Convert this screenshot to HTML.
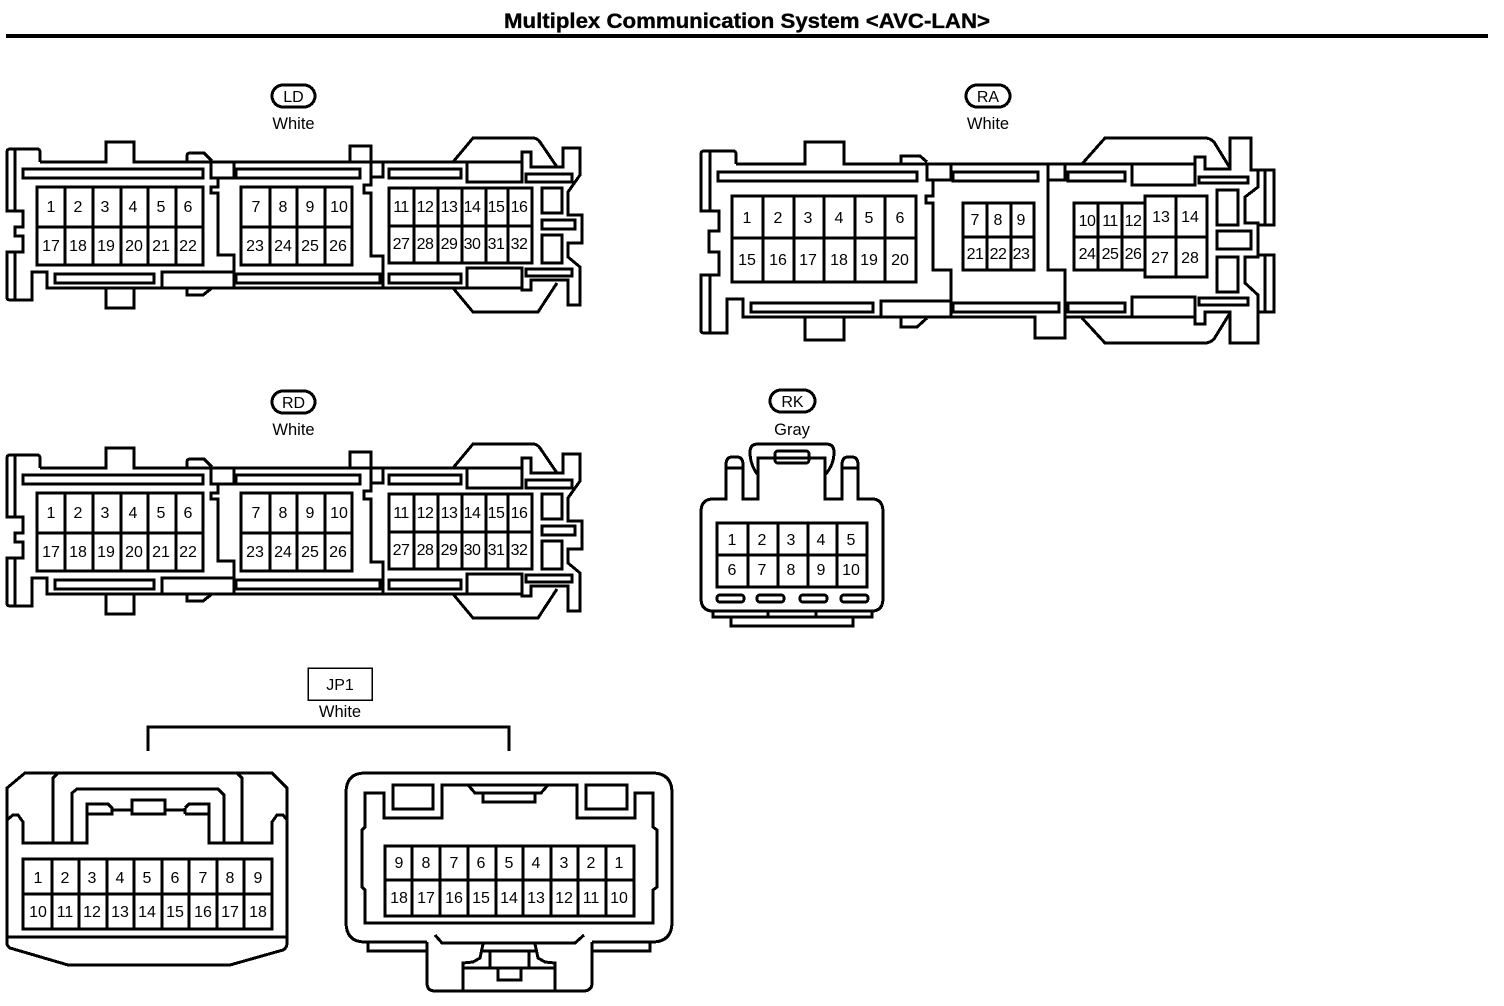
<!DOCTYPE html>
<html><head><meta charset="utf-8"><style>
html,body{margin:0;padding:0;background:#fff}
svg{display:block}
text{font-family:"Liberation Sans",sans-serif;font-size:16px;fill:#000;text-anchor:middle;stroke:none}
.n{letter-spacing:-.5px}
.s{font-size:16.5px}
text.t{font-size:21px;font-weight:bold;stroke:#000;stroke-width:.35px}
path,rect{fill:none;stroke:#000;stroke-width:3;shape-rendering:crispEdges}
.g{stroke-width:3}
</style></head><body>
<svg width="1504" height="1006" viewBox="0 0 1504 1006" xmlns="http://www.w3.org/2000/svg">
<rect x="0" y="0" width="1504" height="1006" style="fill:#fff;stroke:none"/>
<text class="t" x="747" y="28" textLength="486" lengthAdjust="spacingAndGlyphs">Multiplex Communication System &lt;AVC-LAN&gt;</text>
<path d="M6 36H1488" style="stroke-width:4"/>

<!-- LD -->
<g>
<rect x="272" y="85" width="43" height="22" rx="11"/><text x="293.500" y="102">LD</text><text class="s" x="293.500" y="129">White</text>
<path d="M40 162V152Q40 149 37 149H10Q7 149 7 152V211H23V227H15V236H23V252H7V297Q7 300 10 300H32V272H47V288H106V308H134V288H187V295H203L212 288M15 149V211M15 252V300M40 162H106V142H134V162H187V156Q187 153 190 153H204L212 161M187 162H522M47 288H522M453 162L473 138H533Q537 138 540 142L557 167M453 288L473 312H538L557 283M522 162V152H531V167H563V148H580V175L568 192V215H582V243H568V257L580 267V305H568V280H531V290H522V268H467V288M467 162V182H522V162"/>
<path d="M211 162V178H234V162M218 178V187H211V193H218V255H234V288M234 272H162V288M350 162V146H371V185H364V193H371V256H383V288M371 177H383V162"/>
<rect x="23" y="169" width="180" height="9"/><rect x="236" y="169" width="124" height="9"/><rect x="389" y="169" width="72" height="9"/><rect x="55" y="274" width="99" height="9"/><rect x="236" y="274" width="144" height="9"/><rect x="389" y="274" width="72" height="9"/>
<rect x="526" y="174" width="46" height="8"/><rect x="526" y="269" width="46" height="7"/><rect x="542" y="188" width="20" height="25"/><rect x="542" y="220" width="33" height="9"/><rect x="542" y="235" width="20" height="28"/>
<path class="g" d="M37 187H203V265H37ZM37 227H203M65 187V265M93 187V265M121 187V265M148 187V265M176 187V265M241 187H352V265H241ZM241 227H352M270 187V265M297 187V265M325 187V265M389 188H532V263H389ZM389 226H532M414 188V263M438 188V263M462 188V263M486 188V263M508 188V263"/>
<text x="51" y="212">1</text><text x="78" y="212">2</text><text x="105" y="212">3</text><text x="133" y="212">4</text><text x="161" y="212">5</text><text x="188" y="212">6</text>
<text x="51" y="251">17</text><text x="78" y="251">18</text><text x="106" y="251">19</text><text x="134" y="251">20</text><text x="161" y="251">21</text><text x="188" y="251">22</text>
<text x="256" y="212">7</text><text x="283" y="212">8</text><text x="310" y="212">9</text><text x="339" y="212">10</text>
<text x="255" y="251">23</text><text x="283" y="251">24</text><text x="310" y="251">25</text><text x="338" y="251">26</text>
<text class="n" x="401" y="212">11</text><text class="n" x="425" y="212">12</text><text class="n" x="449" y="212">13</text><text class="n" x="472" y="212">14</text><text class="n" x="496" y="212">15</text><text class="n" x="519" y="212">16</text>
<text class="n" x="401" y="249">27</text><text class="n" x="425" y="249">28</text><text class="n" x="449" y="249">29</text><text class="n" x="472" y="249">30</text><text class="n" x="496" y="249">31</text><text class="n" x="519" y="249">32</text>
</g>

<!-- RD -->
<g transform="translate(0,306)">
<rect x="272" y="85" width="43" height="22" rx="11"/><text x="293.500" y="102">RD</text><text class="s" x="293.500" y="129">White</text>
<path d="M40 162V152Q40 149 37 149H10Q7 149 7 152V211H23V227H15V236H23V252H7V297Q7 300 10 300H32V272H47V288H106V308H134V288H187V295H203L212 288M15 149V211M15 252V300M40 162H106V142H134V162H187V156Q187 153 190 153H204L212 161M187 162H522M47 288H522M453 162L473 138H533Q537 138 540 142L557 167M453 288L473 312H538L557 283M522 162V152H531V167H563V148H580V175L568 192V215H582V243H568V257L580 267V305H568V280H531V290H522V268H467V288M467 162V182H522V162"/>
<path d="M211 162V178H234V162M218 178V187H211V193H218V255H234V288M234 272H162V288M350 162V146H371V185H364V193H371V256H383V288M371 177H383V162"/>
<rect x="23" y="169" width="180" height="9"/><rect x="236" y="169" width="124" height="9"/><rect x="389" y="169" width="72" height="9"/><rect x="55" y="274" width="99" height="9"/><rect x="236" y="274" width="144" height="9"/><rect x="389" y="274" width="72" height="9"/>
<rect x="526" y="174" width="46" height="8"/><rect x="526" y="269" width="46" height="7"/><rect x="542" y="188" width="20" height="25"/><rect x="542" y="220" width="33" height="9"/><rect x="542" y="235" width="20" height="28"/>
<path class="g" d="M37 187H203V265H37ZM37 227H203M65 187V265M93 187V265M121 187V265M148 187V265M176 187V265M241 187H352V265H241ZM241 227H352M270 187V265M297 187V265M325 187V265M389 188H532V263H389ZM389 226H532M414 188V263M438 188V263M462 188V263M486 188V263M508 188V263"/>
<text x="51" y="212">1</text><text x="78" y="212">2</text><text x="105" y="212">3</text><text x="133" y="212">4</text><text x="161" y="212">5</text><text x="188" y="212">6</text>
<text x="51" y="251">17</text><text x="78" y="251">18</text><text x="106" y="251">19</text><text x="134" y="251">20</text><text x="161" y="251">21</text><text x="188" y="251">22</text>
<text x="256" y="212">7</text><text x="283" y="212">8</text><text x="310" y="212">9</text><text x="339" y="212">10</text>
<text x="255" y="251">23</text><text x="283" y="251">24</text><text x="310" y="251">25</text><text x="338" y="251">26</text>
<text class="n" x="401" y="212">11</text><text class="n" x="425" y="212">12</text><text class="n" x="449" y="212">13</text><text class="n" x="472" y="212">14</text><text class="n" x="496" y="212">15</text><text class="n" x="519" y="212">16</text>
<text class="n" x="401" y="249">27</text><text class="n" x="425" y="249">28</text><text class="n" x="449" y="249">29</text><text class="n" x="472" y="249">30</text><text class="n" x="496" y="249">31</text><text class="n" x="519" y="249">32</text>
</g>

<!-- RA -->
<rect x="966" y="85" width="44" height="22" rx="11"/><text x="988" y="102">RA</text><text class="s" x="988" y="129">White</text>
<path d="M736 164V154Q736 151 733 151H704Q701 151 701 154V211H719V231H709V252H719V275H701V330Q701 333 704 333H727V299H743V317H805V340H844V317H901V327H917L927 318M710 151V211M710 275V333M736 164H805V142H844V164H901V156H920L927 162M901 164H1195M743 317H1035V338H1065V317H1195M1082 164L1105 138H1205Q1210 138 1214 142L1230 168M1082 318L1105 343H1205Q1210 343 1214 339L1230 313M1195 164V157H1205V169H1230V138H1251V170H1274V225H1258M1258 170V187L1245 197V223H1258V257H1245V283L1258 295V343H1230V312H1205V324H1195V297H1132V317M1265 170V225M1258 255H1274V312H1258M1265 255V312M1132 164V185H1195V164"/>
<path d="M927 164V180H951V164M933 180V196H926V203H933V270H951V317M951 301H881V317M1048 164V270H1065V338M1048 180H1065V164"/>
<rect x="718" y="172" width="199" height="9"/><rect x="953" y="172" width="85" height="9"/><rect x="1068" y="172" width="57" height="9"/><rect x="751" y="303" width="122" height="9"/><rect x="953" y="303" width="106" height="9"/><rect x="1068" y="303" width="57" height="9"/>
<rect x="1199" y="177" width="49" height="6"/><rect x="1199" y="298" width="49" height="7"/><rect x="1217" y="190" width="21" height="35"/><rect x="1217" y="231" width="34" height="18"/><rect x="1217" y="257" width="21" height="35"/>
<path class="g" d="M732 196H916V282H732ZM732 238H916M763 196V282M794 196V282M824 196V282M855 196V282M885 196V282M963 203H1034V270H963ZM963 237H1034M987 203V270M1011 203V270M1074 203H1145V270H1074ZM1074 237H1145M1098 203V270M1122 203V270M1145 196H1207V277H1145ZM1145 237H1207M1176 196V277"/>
<text x="747" y="223">1</text><text x="778" y="223">2</text><text x="808" y="223">3</text><text x="839" y="223">4</text><text x="869" y="223">5</text><text x="900" y="223">6</text>
<text x="747" y="265">15</text><text x="778" y="265">16</text><text x="808" y="265">17</text><text x="839" y="265">18</text><text x="869" y="265">19</text><text x="900" y="265">20</text>
<text x="975" y="225">7</text><text x="998" y="225">8</text><text x="1021" y="225">9</text>
<text class="n" x="975" y="259">21</text><text class="n" x="998" y="259">22</text><text class="n" x="1021" y="259">23</text>
<text class="n" x="1087" y="226">10</text><text class="n" x="1110" y="226">11</text><text class="n" x="1133" y="226">12</text>
<text class="n" x="1087" y="259">24</text><text class="n" x="1110" y="259">25</text><text class="n" x="1133" y="259">26</text>
<text x="1161" y="222">13</text><text x="1190" y="222">14</text><text x="1160" y="263">27</text><text x="1190" y="263">28</text>

<!-- RK -->
<rect x="770" y="390" width="45" height="22" rx="11"/><text x="792.500" y="407">RK</text><text class="s" x="792" y="435">Gray</text>
<path d="M701 512Q701 499 713 499H726V465Q726 457 732 457H737Q743 457 743 465V499H758V458H825V499H842V465Q842 457 848 457H852Q858 457 858 465V499H872Q883 499 883 512V598Q883 611 872 611H713Q701 611 701 598ZM727 468H742M843 468H857"/>
<path d="M758 475Q750 465 750 452Q750 444 758 444H826Q834 444 834 452Q834 465 825 475"/>
<rect x="775" y="451" width="34" height="12" rx="3"/>
<path d="M713 611V617H872V611M768 611V617M816 611V617M731 617V626H853V617"/>
<path class="g" d="M717 523H867V587H717ZM717 555H867M748 523V587M778 523V587M808 523V587M837 523V587"/>
<rect x="717" y="595" width="27" height="7" rx="3"/><rect x="757" y="595" width="27" height="7" rx="3"/><rect x="800" y="595" width="27" height="7" rx="3"/><rect x="841" y="595" width="27" height="7" rx="3"/>
<text x="732" y="545">1</text><text x="762" y="545">2</text><text x="791" y="545">3</text><text x="821" y="545">4</text><text x="851" y="545">5</text>
<text x="732" y="575">6</text><text x="762" y="575">7</text><text x="791" y="575">8</text><text x="821" y="575">9</text><text x="851" y="575">10</text>

<!-- JP1 -->
<rect x="308" y="668" width="64" height="32" style="stroke-width:1.5"/><text x="340" y="690">JP1</text><text class="s" x="340" y="717">White</text>
<path d="M148 751V727H509V751"/>

<!-- JP1 left -->
<path d="M25 773H272L287 788V943Q287 948 283 950L230 965H68L10 948Q7 946 7 943V788ZM7 820L13 815H18L23 822V843H87V804H108L112 808V814H87M112 810H132M132 800H165V814H132ZM165 810H185M185 808L189 804H209V843H272V822L277 815H283L287 820M185 814H209M185 808V814M53 843V778L58 773M237 773L242 778V843M72 843V793L77 789H218L224 795V843M7 937H287"/>
<path class="g" d="M23 859H272V929H23ZM23 894H272M52 859V929M79 859V929M107 859V929M134 859V929M162 859V929M189 859V929M217 859V929M244 859V929"/>
<text x="38" y="883">1</text><text x="65" y="883">2</text><text x="92" y="883">3</text><text x="120" y="883">4</text><text x="147" y="883">5</text><text x="175" y="883">6</text><text x="203" y="883">7</text><text x="230" y="883">8</text><text x="258" y="883">9</text>
<text x="38" y="917">10</text><text x="65" y="917">11</text><text x="92" y="917">12</text><text x="120" y="917">13</text><text x="147" y="917">14</text><text x="175" y="917">15</text><text x="203" y="917">16</text><text x="230" y="917">17</text><text x="258" y="917">18</text>

<!-- JP1 right -->
<path d="M427 942H365Q346 942 346 922V793Q346 773 365 773H652Q672 773 672 793V922Q672 942 652 942H592M368 942V951H427M592 951H650V942M427 942V983Q427 991 435 991H583Q592 991 592 983V942"/>
<path d="M384 793V818H442V785H577V818H635V793H653V827L657 830V887L653 890V923H365V890L362 887V830L365 827V793ZM468 785L475 793H541L548 785M483 793V802H535V793"/>
<rect x="393" y="785" width="40" height="24"/><rect x="586" y="785" width="41" height="24"/>
<path class="g" d="M385 846H634V916H385ZM385 880H634M412 846V916M440 846V916M468 846V916M496 846V916M523 846V916M551 846V916M578 846V916M606 846V916"/>
<path d="M435 935L442 943H575L584 935M483 944L480 958L473 962L463 963V990M535 944L538 958L545 962L555 963V990M463 968H555M490 952V968M529 952V968M483 951H535M498 968V980H521V968"/>
<text x="399" y="868">9</text><text x="426" y="868">8</text><text x="454" y="868">7</text><text x="481" y="868">6</text><text x="509" y="868">5</text><text x="536" y="868">4</text><text x="564" y="868">3</text><text x="591" y="868">2</text><text x="619" y="868">1</text>
<text x="399" y="903">18</text><text x="426" y="903">17</text><text x="454" y="903">16</text><text x="481" y="903">15</text><text x="509" y="903">14</text><text x="536" y="903">13</text><text x="564" y="903">12</text><text x="591" y="903">11</text><text x="619" y="903">10</text>
</svg>
</body></html>
